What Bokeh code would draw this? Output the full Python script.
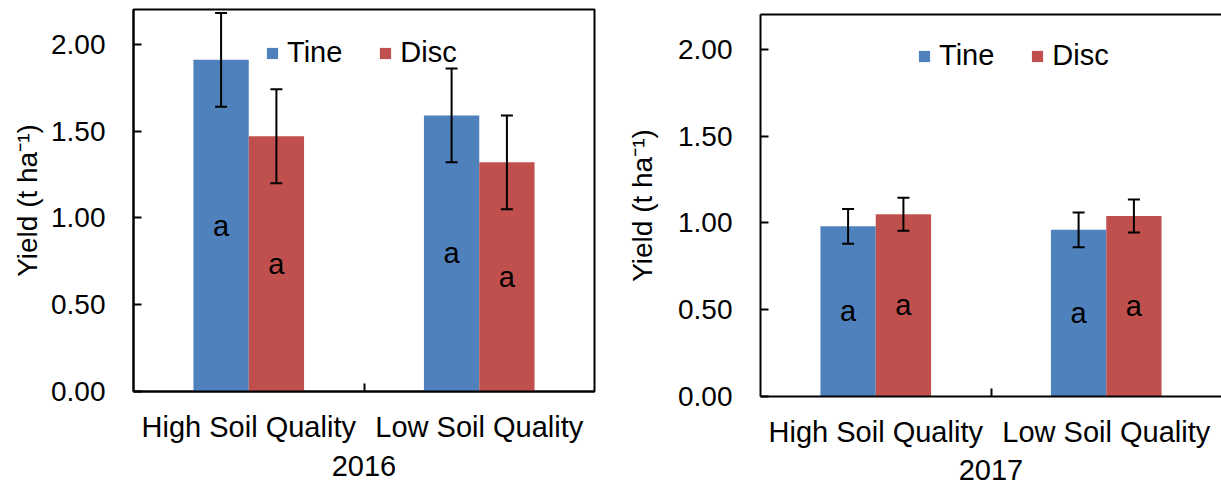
from bokeh.plotting import figure
from bokeh.models import (ColumnDataSource, Range1d, FixedTicker, NumeralTickFormatter,
                          Whisker, TeeHead, LinearAxis)
from bokeh.layouts import row
from bokeh.core.properties import value
from bokeh.embed import file_html
from bokeh.resources import INLINE

# ---------------- data ----------------
categories = ["High Soil Quality", "Low Soil Quality"]
series_names = ["Tine", "Disc"]

tine_2016 = [1.91, 1.59]
disc_2016 = [1.47, 1.32]
tine_err_2016 = [0.27, 0.27]
disc_err_2016 = [0.27, 0.27]
tine_letters_2016 = ["a", "a"]
disc_letters_2016 = ["a", "a"]

tine_2017 = [0.98, 0.96]
disc_2017 = [1.05, 1.04]
tine_err_2017 = [0.10, 0.10]
disc_err_2017 = [0.095, 0.095]
tine_letters_2017 = ["a", "a"]
disc_letters_2017 = ["a", "a"]

y_ticks = [0.0, 0.5, 1.0, 1.5, 2.0]
y_max = 2.2
y_label = "Yield (t ha\u207b\u00b9)"

# ---------------- style ----------------
COLORS = {"Tine": "#4F81BD", "Disc": "#C0504D"}
FONT = "Liberation Sans"
BAR_W = 0.24


def make_panel(year, tine, disc, tine_err, disc_err, tine_let, disc_let,
               width, height, mb_left, mb_top, mb_bottom, mb_right,
               legend_loc, ylab_standoff, xlab_standoff, cat_standoff, full_outline):
    n = len(categories)
    p = figure(width=width, height=height, output_backend="svg", toolbar_location=None,
               x_range=Range1d(0, n), y_range=Range1d(0, y_max),
               min_border_left=mb_left, min_border_top=mb_top,
               min_border_bottom=mb_bottom, min_border_right=mb_right)
    p.grid.visible = False
    p.background_fill_color = "white"
    p.border_fill_color = "white"
    xa = p.below[0]
    ya = p.left[0]
    if full_outline:
        p.outline_line_color = "black"
        p.outline_line_width = 2
    else:
        p.outline_line_color = None
        top = LinearAxis(ticker=FixedTicker(ticks=[]), major_label_text_font_size="0px",
                         axis_line_width=2, axis_line_color="black",
                         major_tick_line_color=None, minor_tick_line_color=None)
        p.add_layout(top, "above")

    centers = [i + 0.5 for i in range(n)]
    for name, vals, errs, lets, off in (("Tine", tine, tine_err, tine_let, -BAR_W / 2),
                                         ("Disc", disc, disc_err, disc_let, BAR_W / 2)):
        xs = [c + off for c in centers]
        src = ColumnDataSource(dict(
            x=xs, top=vals,
            upper=[v + e for v, e in zip(vals, errs)],
            lower=[v - e for v, e in zip(vals, errs)],
            ly=[v / 2 for v in vals], lt=lets))
        p.vbar(x="x", top="top", width=BAR_W, source=src, fill_color=COLORS[name],
               line_color=None, legend_label=name)
        w = Whisker(base="x", upper="upper", lower="lower", source=src, dimension="height",
                    line_width=2, line_color="black", level="annotation",
                    upper_head=TeeHead(size=12, line_width=2, line_color="black"),
                    lower_head=TeeHead(size=12, line_width=2, line_color="black"))
        p.add_layout(w)
        p.text(x="x", y="ly", text="lt", source=src, text_font=value(FONT),
               text_font_size="29px", text_align="center", text_baseline="middle",
               text_color="black")

    # x axis
    xa.ticker = FixedTicker(ticks=centers, minor_ticks=[i for i in range(1, n)])
    xa.major_label_overrides = {c: cat for c, cat in zip(centers, categories)}
    xa.major_tick_line_color = None
    xa.minor_tick_in = 8
    xa.minor_tick_out = 0
    xa.minor_tick_line_width = 2
    xa.minor_tick_line_color = "black"
    xa.axis_line_width = 2
    xa.axis_line_color = "black"
    xa.major_label_text_font = FONT
    xa.major_label_text_font_size = "29px"
    xa.major_label_text_color = "black"
    xa.major_label_standoff = cat_standoff
    xa.axis_label = year
    xa.axis_label_text_font = FONT
    xa.axis_label_text_font_size = "29px"
    xa.axis_label_text_font_style = "normal"
    xa.axis_label_text_color = "black"
    xa.axis_label_standoff = xlab_standoff

    # y axis
    ya.ticker = FixedTicker(ticks=y_ticks)
    ya.formatter = NumeralTickFormatter(format="0.00")
    ya.major_tick_in = 8
    ya.major_tick_out = 0
    ya.major_tick_line_width = 2
    ya.major_tick_line_color = "black"
    ya.minor_tick_line_color = None
    ya.axis_line_width = 2
    ya.axis_line_color = "black"
    ya.major_label_text_font = FONT
    ya.major_label_text_font_size = "28px"
    ya.major_label_text_color = "black"
    ya.major_label_standoff = 28
    ya.axis_label = y_label
    ya.axis_label_text_font = FONT
    ya.axis_label_text_font_size = "28px"
    ya.axis_label_text_font_style = "normal"
    ya.axis_label_text_color = "black"
    ya.axis_label_standoff = ylab_standoff

    lg = p.legend[0]
    lg.orientation = "horizontal"
    lg.location = legend_loc
    lg.border_line_color = None
    lg.background_fill_alpha = 0
    lg.label_text_font = FONT
    lg.label_text_font_size = "29px"
    lg.label_text_color = "black"
    lg.glyph_width = 14
    lg.glyph_height = 14
    lg.label_standoff = 8
    lg.spacing = 36
    lg.padding = 0
    lg.margin = 0
    return p


p1 = make_panel("2016", tine_2016, disc_2016, tine_err_2016, disc_err_2016,
                tine_letters_2016, disc_letters_2016,
                width=600, height=481, mb_left=133, mb_top=9, mb_bottom=90, mb_right=6,
                legend_loc=(132, 322), ylab_standoff=5, xlab_standoff=10, cat_standoff=13,
                full_outline=True)
p2 = make_panel("2017", tine_2017, disc_2017, tine_err_2017, disc_err_2017,
                tine_letters_2017, disc_letters_2017,
                width=621, height=481, mb_left=160, mb_top=9, mb_bottom=90, mb_right=0,
                legend_loc=(157, 324), ylab_standoff=17, xlab_standoff=9, cat_standoff=13,
                full_outline=False)
p2.margin = (5, 0, 0, 0)

layout = row(p1, p2, spacing=0)
open("out.html", "w").write(file_html(layout, INLINE))
